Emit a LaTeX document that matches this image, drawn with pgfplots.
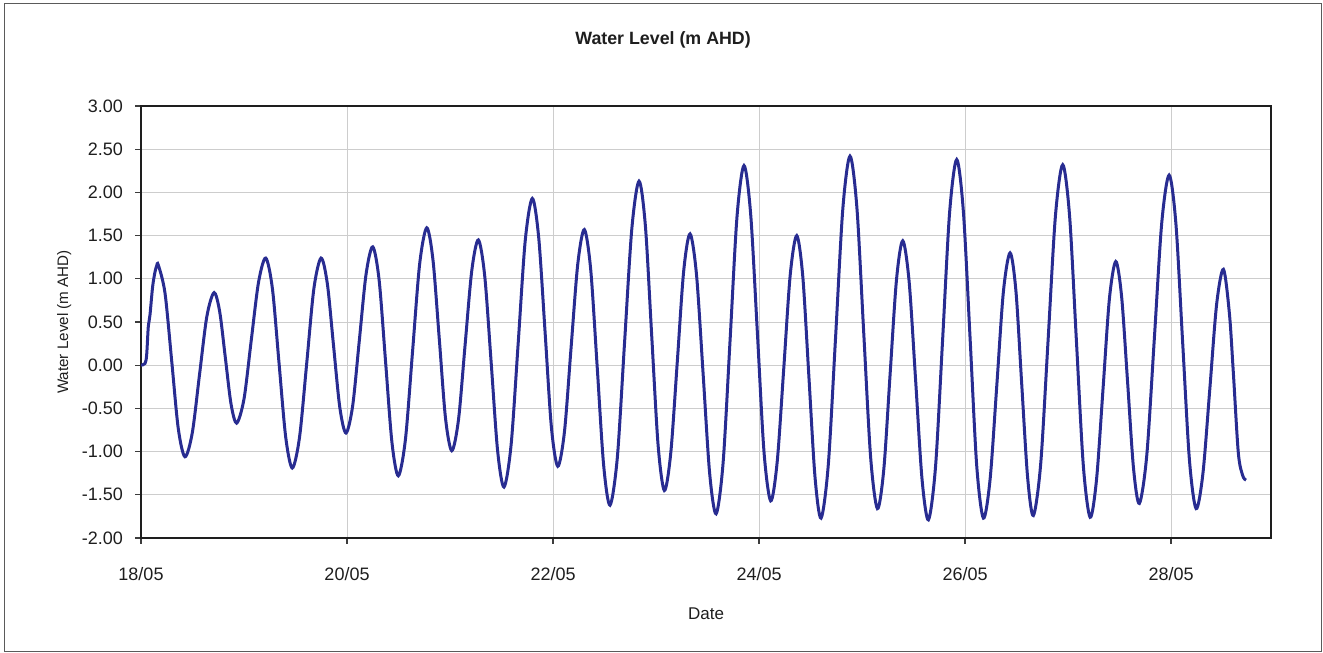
\documentclass[border=0pt]{standalone}
\usepackage{pgfplots}
\pgfplotsset{compat=1.18}
\usepackage{fontspec}
\setmainfont{Liberation Sans}
\definecolor{wl}{RGB}{40,44,145}
\definecolor{txt}{RGB}{30,30,30}
\begin{document}
\begin{tikzpicture}
\useasboundingbox (0pt,0pt) rectangle (661.5pt,326.5pt);
\draw[color={rgb,255:red,90;green,90;blue,90}, line width=0.7pt] (2.3pt,0.8pt) rectangle (660.8pt,324.7pt);
\begin{axis}[
  at={(70.5pt,57.5pt)}, anchor=south west,
  scale only axis, width=565pt, height=216pt,
  xmin=0, xmax=10.97, ymin=-2, ymax=3,
  xtick={0,2,4,6,8,10},
  xticklabels={18/05,20/05,22/05,24/05,26/05,28/05},
  ytick={-2,-1.5,...,3},
  xtick pos=bottom, ytick pos=left,
  /pgf/number format/assume math mode=true,
  yticklabel={\pgfmathprintnumber[fixed,fixed zerofill,precision=2]{\tick}},
  tick label style={font=\fontsize{9}{11}\selectfont, text=txt},
  xticklabel style={yshift=-8pt},
  yticklabel style={xshift=-2.5pt},
  tick align=outside, major tick length=3pt,
  tick style={line width=0.6pt, color={rgb,255:red,60;green,60;blue,60}},
  axis line style={line width=1.3pt, color={rgb,255:red,30;green,30;blue,30}},
  grid=major,
  major grid style={line width=0.5pt, color={rgb,255:red,205;green,205;blue,205}},
  xlabel={Date},
  ylabel={Water Level (m AHD)},
  xlabel style={font=\fontsize{8.5}{10}\selectfont, text=txt, at={(axis description cs:0.5,-0.176)}, anchor=center},
  ylabel style={font=\fontsize{7.6}{9}\selectfont, text=txt, at={(axis description cs:-0.068,0.5)}, anchor=center, rotate=0},
  title={\textbf{Water Level (m AHD)}},
  title style={font=\fontsize{8.9}{10}\selectfont, text=txt, at={(axis description cs:0.462,1.125)}, anchor=center, yshift=0pt},
]
\addplot[wl, line width=1.5pt, smooth, tension=0.5] coordinates {
(0.0,0.0) (0.039,0.02) (0.055,0.12) (0.071,0.45) (0.087,0.58) (0.113,0.91) (0.136,1.08) (0.152,1.15)
(0.168,1.16)
(0.233,0.835)(0.298,0.05)(0.362,-0.735)
(0.427,-1.06)
(0.498,-0.782)(0.568,-0.11)(0.639,0.562)
(0.709,0.84)
(0.764,0.619)(0.819,0.085)(0.874,-0.449)
(0.929,-0.67)
(1.000,-0.39)(1.070,0.285)(1.141,0.96)
(1.211,1.24)
(1.276,0.884)(1.340,0.025)(1.405,-0.834)
(1.469,-1.19)
(1.539,-0.834)(1.609,0.025)(1.678,0.884)
(1.748,1.24)
(1.809,0.943)(1.869,0.228)(1.930,-0.488)
(1.990,-0.785)
(2.055,-0.469)(2.120,0.293)(2.185,1.054)
(2.250,1.37)
(2.312,0.982)(2.374,0.045)(2.436,-0.892)
(2.498,-1.28)
(2.567,-0.86)(2.636,0.155)(2.705,1.17)
(2.774,1.59)
(2.835,1.212)(2.896,0.30)(2.956,-0.612)
(3.017,-0.99)
(3.082,-0.633)(3.146,0.23)(3.211,1.093)
(3.275,1.45)
(3.337,1.031)(3.400,0.02)(3.462,-0.991)
(3.524,-1.41)
(3.593,-0.921)(3.662,0.26)(3.730,1.441)
(3.799,1.93)
(3.861,1.476)(3.923,0.38)(3.984,-0.716)
(4.046,-1.17)
(4.111,-0.769)(4.175,0.20)(4.240,1.169)
(4.304,1.57)
(4.366,1.103)(4.429,-0.025)(4.491,-1.153)
(4.553,-1.62)
(4.624,-1.071)(4.694,0.255)(4.765,1.581)
(4.835,2.13)
(4.897,1.606)(4.958,0.34)(5.020,-0.926)
(5.081,-1.45)
(5.143,-1.015)(5.206,0.035)(5.268,1.085)
(5.330,1.52)
(5.393,1.045)(5.457,-0.10)(5.520,-1.245)
(5.583,-1.72)
(5.651,-1.13)(5.719,0.295)(5.786,1.72)
(5.854,2.31)
(5.919,1.742)(5.984,0.37)(6.048,-1.002)
(6.113,-1.57)
(6.176,-1.12)(6.240,-0.035)(6.303,1.05)
(6.366,1.50)
(6.425,1.021)(6.484,-0.135)(6.543,-1.291)
(6.602,-1.77)
(6.672,-1.156)(6.743,0.325)(6.813,1.806)
(6.883,2.42)
(6.950,1.822)(7.016,0.38)(7.083,-1.062)
(7.149,-1.66)
(7.211,-1.206)(7.272,-0.11)(7.334,0.986)
(7.395,1.44)
(7.457,0.967)(7.520,-0.175)(7.582,-1.317)
(7.644,-1.79)
(7.713,-1.179)(7.782,0.295)(7.850,1.769)
(7.919,2.38)
(7.984,1.772)(8.049,0.305)(8.113,-1.162)
(8.178,-1.77)
(8.243,-1.32)(8.308,-0.235)(8.372,0.85)
(8.437,1.30)
(8.494,0.855)(8.550,-0.22)(8.607,-1.295)
(8.663,-1.74)
(8.734,-1.145)(8.806,0.29)(8.877,1.725)
(8.948,2.32)
(9.015,1.722)(9.081,0.28)(9.148,-1.162)
(9.214,-1.76)
(9.276,-1.326)(9.339,-0.28)(9.401,0.766)
(9.463,1.20)
(9.520,0.79)(9.578,-0.20)(9.635,-1.19)
(9.692,-1.60)
(9.764,-1.043)(9.837,0.30)(9.909,1.643)
(9.981,2.20)
(10.047,1.635)(10.112,0.27)(10.178,-1.095)
(10.243,-1.66)
(10.309,-1.254)(10.376,-0.275)(10.442,0.704)
(10.508,1.11)
(10.566,0.60)(10.605,-0.10)(10.653,-1.02)(10.696,-1.28)(10.728,-1.33)
};
\end{axis}
\end{tikzpicture}
\end{document}
